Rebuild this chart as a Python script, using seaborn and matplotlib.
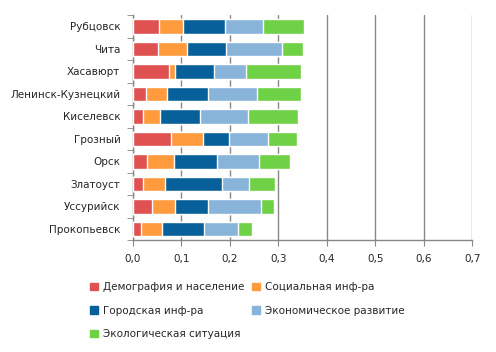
import numpy as np
import pandas as pd
import matplotlib
matplotlib.use("Agg")
import matplotlib.pyplot as plt
import seaborn as sns
from matplotlib.patches import Patch

cities = ["Рубцовск", "Чита", "Хасавюрт", "Ленинск-Кузнецкий", "Киселевск",
          "Грозный", "Орск", "Златоуст", "Уссурийск", "Прокопьевск"]
series = ["Демография и население", "Социальная инф-ра", "Городская инф-ра",
          "Экономическое развитие", "Экологическая ситуация"]

demo = [0.054, 0.052, 0.075, 0.027, 0.021, 0.079, 0.030, 0.021, 0.040, 0.017]
social = [0.050, 0.060, 0.012, 0.044, 0.035, 0.066, 0.055, 0.046, 0.047, 0.043]
urban = [0.086, 0.080, 0.080, 0.084, 0.083, 0.053, 0.089, 0.117, 0.068, 0.087]
econ = [0.078, 0.115, 0.066, 0.101, 0.098, 0.081, 0.086, 0.056, 0.109, 0.070]
eco = [0.085, 0.044, 0.114, 0.091, 0.103, 0.059, 0.064, 0.053, 0.027, 0.029]

colors = ["#E05252", "#FF9B3D", "#07609A", "#89B4DA", "#6FD145"]

sns.set_style("white")
plt.rcParams["font.family"] = ["DejaVu Sans"]

df = pd.DataFrame({"city": cities})
vals = [demo, social, urban, econ, eco]
cum = np.cumsum(np.array(vals), axis=0)

fig = plt.figure(figsize=(4.96, 3.52), dpi=100)
ax = fig.add_axes([0.268, 0.318, 0.684, 0.639])

# draw cumulative totals from the longest down so segments show stacked
for i in range(len(series) - 1, -1, -1):
    df["v"] = cum[i]
    sns.barplot(data=df, x="v", y="city", orient="h", color=colors[i],
                width=0.64, saturation=1, ax=ax, zorder=3)

ax.set_xlim(0, 0.7)
ax.set_ylim(9.5, -0.5)
ax.set_xticks(np.arange(0, 0.71, 0.1))
ax.set_xticklabels([f"{t:.1f}".replace(".", ",") for t in np.arange(0, 0.71, 0.1)])
ax.set_xlabel("")
ax.set_ylabel("")
ax.xaxis.grid(True, color="#878787", linewidth=1, zorder=0)
ax.set_axisbelow(True)
for s in ["top", "right"]:
    ax.spines[s].set_visible(False)
for s in ["left", "bottom"]:
    ax.spines[s].set_color("#878787")
    ax.spines[s].set_linewidth(1)

ax.set_yticks(np.arange(-0.5, 10, 1), minor=True)
ax.tick_params(axis="y", which="major", length=0, labelsize=7.5, pad=9)
ax.tick_params(axis="y", which="minor", length=4, color="#878787", left=True)
ax.tick_params(axis="x", length=4, color="#878787", labelsize=7.5, pad=6, bottom=True)

handles = [Patch(color=c) for c in colors]
order = [0, 2, 4, 1, 3]
fig.legend([handles[i] for i in order], [series[i] for i in order],
           ncol=2, loc="upper left", bbox_to_anchor=(0.163, 0.225),
           frameon=False, fontsize=7.5, handlelength=0.7, handleheight=0.7,
           handletextpad=0.5, labelspacing=1.3, columnspacing=0.8)

fig.savefig("out.png", dpi=100)
